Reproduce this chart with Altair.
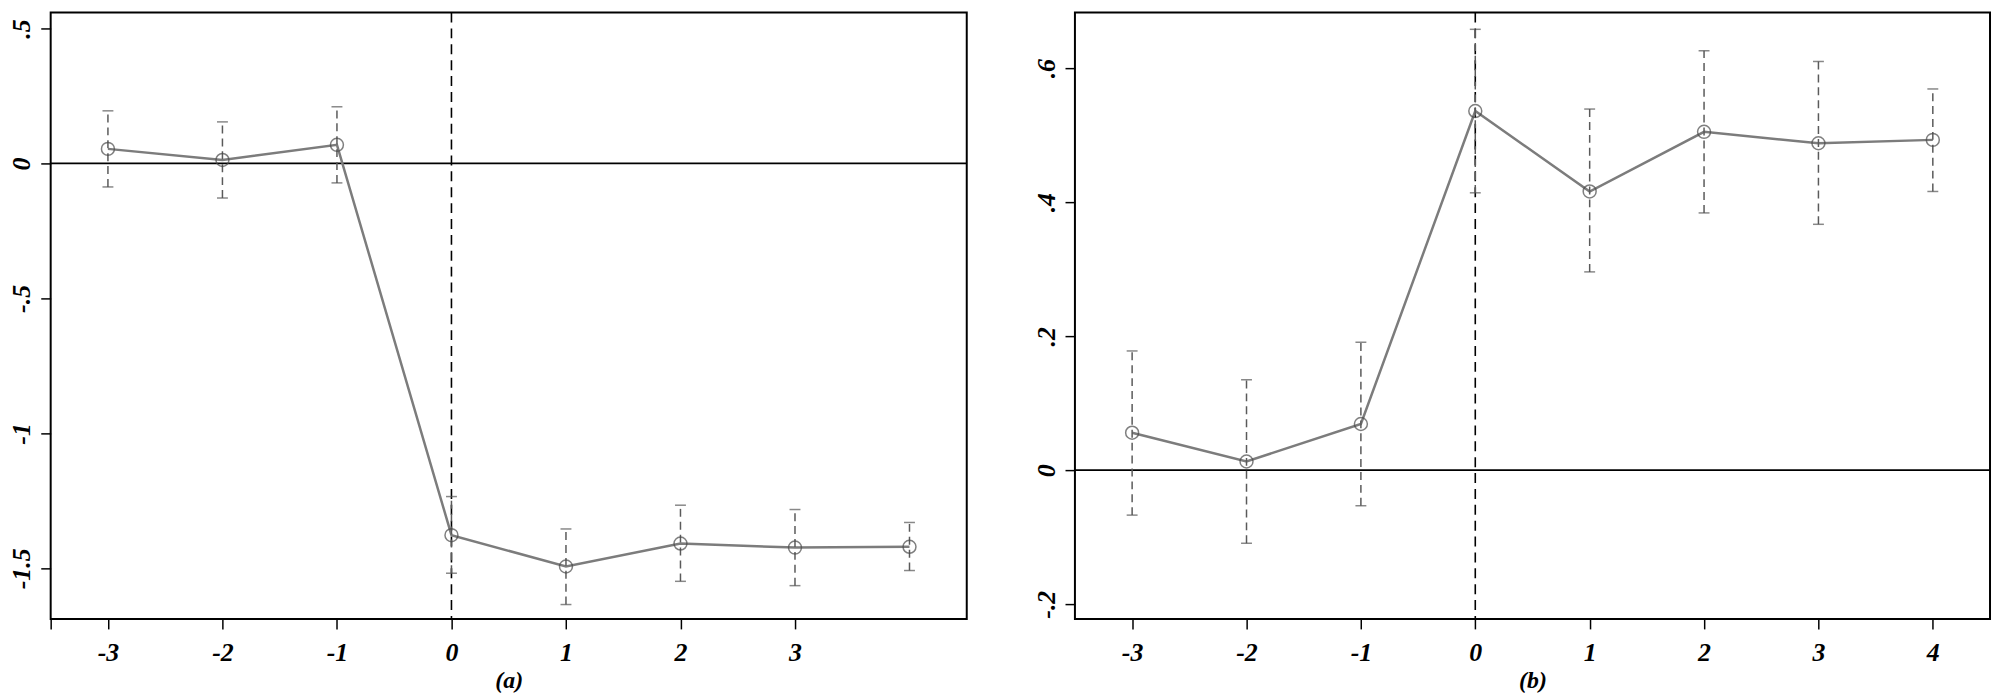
import altair as alt
import pandas as pd

periods = [-3, -2, -1, 0, 1, 2, 3, 4]

coef_a = [0.054, 0.013, 0.069, -1.377, -1.493, -1.408, -1.423, -1.420]
upper_a = [0.195, 0.154, 0.210, -1.234, -1.354, -1.266, -1.282, -1.330]
lower_a = [-0.087, -0.128, -0.072, -1.518, -1.634, -1.548, -1.564, -1.508]

coef_b = [0.056, 0.013, 0.069, 0.536, 0.416, 0.505, 0.488, 0.493]
upper_b = [0.178, 0.135, 0.191, 0.658, 0.539, 0.626, 0.610, 0.569]
lower_b = [-0.067, -0.109, -0.053, 0.414, 0.296, 0.384, 0.367, 0.416]

yticks_a = [0.5, 0, -0.5, -1, -1.5]
yticks_b = [0.6, 0.4, 0.2, 0, -0.2]
xticks_a = [-3.5, -3, -2, -1, 0, 1, 2, 3]
xticks_b = [-3, -2, -1, 0, 1, 2, 3, 4]

FONT = "Liberation Serif"


def panel(coef, lower, upper, ydomain, yticks, xticks, caption, w, h):
    df = pd.DataFrame({"period": periods, "coef": coef, "lower": lower, "upper": upper})
    xscale = alt.Scale(domain=[-3.5, 4.5], nice=False, zero=False)
    yscale = alt.Scale(domain=ydomain, nice=False, zero=False)
    xaxis = alt.Axis(
        values=xticks,
        title=caption,
        labelExpr="datum.value == -3.5 ? '' : '' + datum.value",
        labelPadding=11,
        titlePadding=3,
    )
    yaxis = alt.Axis(
        values=yticks,
        title=None,
        labelExpr="replace('' + datum.value, '0.', '.')",
        labelAngle=270,
        labelAlign="center",
        labelBaseline="bottom",
        labelPadding=6,
    )
    base = alt.Chart(df)
    x = alt.X("period:Q", scale=xscale, axis=xaxis)
    line = base.mark_line(color="#7c7c7c", strokeWidth=2.5).encode(
        x=x, y=alt.Y("coef:Q", scale=yscale, axis=yaxis)
    )
    err = base.mark_rule(color="#5a5a5a", strokeWidth=1.5, strokeDash=[8, 5]).encode(
        x="period:Q", y="lower:Q", y2="upper:Q"
    )
    cap_u = base.mark_tick(orient="horizontal", size=11, thickness=1.5, color="#555555").encode(
        x="period:Q", y="upper:Q"
    )
    cap_l = base.mark_tick(orient="horizontal", size=11, thickness=1.5, color="#555555").encode(
        x="period:Q", y="lower:Q"
    )
    pts = base.mark_point(filled=False, size=170, color="#4a4a4a", strokeWidth=1.5).encode(
        x="period:Q", y="coef:Q"
    )
    hz = alt.Chart(pd.DataFrame({"z": [0]})).mark_rule(color="black", strokeWidth=1.8).encode(
        y="z:Q"
    )
    vt = alt.Chart(pd.DataFrame({"v": [0]})).mark_rule(
        color="black", strokeWidth=1.6, strokeDash=[10, 6]
    ).encode(x="v:Q")
    return alt.layer(hz, vt, line, err, cap_u, cap_l, pts).properties(width=w, height=h)


pa = panel(coef_a, lower_a, upper_a, [-1.6875, 0.559], yticks_a, xticks_a, "(a)", 923, 611)
pb = panel(coef_b, lower_b, upper_b, [-0.222, 0.683], yticks_b, xticks_b, "(b)", 922, 611)

chart = (
    alt.hconcat(pa, pb, spacing=64)
    .properties(padding={"left": 0, "top": 0, "right": 0, "bottom": 0}, background="white")
    .configure_view(stroke="black", strokeWidth=2)
    .configure_axis(
        grid=False,
        domain=False,
        tickColor="black",
        tickSize=10,
        tickWidth=1.5,
        labelFont=FONT,
        labelFontSize=26,
        labelFontStyle="italic",
        labelFontWeight="bold",
        labelColor="black",
        titleFont=FONT,
        titleFontSize=24,
        titleFontStyle="italic",
        titleFontWeight="bold",
        titleColor="black",
    )
)

chart.save("out.html", embed_options={"renderer": "svg", "actions": False})
